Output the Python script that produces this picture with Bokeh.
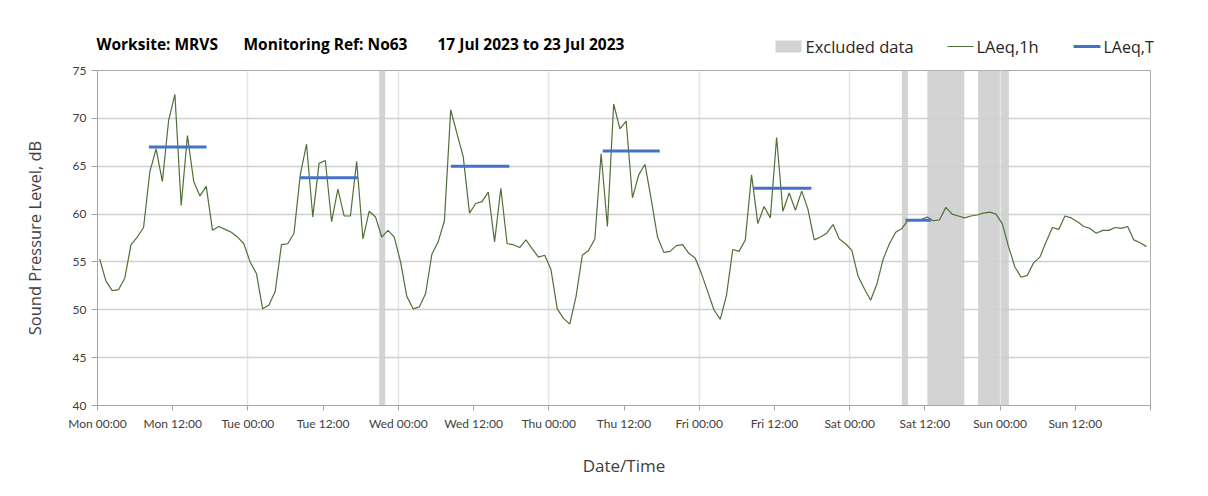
from bokeh.plotting import figure
from bokeh.models import Range1d, FixedTicker, ColumnDataSource
from bokeh.core.properties import value
from bokeh.embed import file_html
from bokeh.resources import INLINE

# ---------------- data ----------------
# hourly LAeq,1h values (dB), Monday 00:00 .. Sunday 23:00
laeq_1h = [
    55.3, 53.0, 52.0, 52.1, 53.3, 56.8, 57.6, 58.6, 64.4, 66.8, 63.4, 69.8,
    72.5, 60.9, 68.2, 63.4, 61.9, 62.9, 58.3, 58.7, 58.4, 58.1, 57.6, 56.9,
    55.0, 53.8, 50.1, 50.5, 51.9, 56.8, 56.9, 58.0, 64.1, 67.3, 59.7, 65.3,
    65.6, 59.2, 62.6, 59.8, 59.8, 65.5, 57.4, 60.3, 59.7, 57.6, 58.3, 57.6,
    55.0, 51.4, 50.1, 50.3, 51.7, 55.8, 57.1, 59.3, 70.9, 68.4, 66.0, 60.1,
    61.1, 61.3, 62.3, 57.1, 62.7, 56.9, 56.8, 56.5, 57.3, 56.4, 55.5, 55.7,
    54.2, 50.1, 49.1, 48.5, 51.4, 55.7, 56.2, 57.4, 66.3, 58.7, 71.5, 68.9,
    69.7, 61.7, 64.1, 65.2, 61.5, 57.6, 56.0, 56.1, 56.7, 56.8, 55.9, 55.4,
    53.8, 51.9, 50.0, 49.0, 51.5, 56.3, 56.1, 57.3, 64.1, 59.0, 60.8, 59.6,
    68.0, 60.3, 62.2, 60.4, 62.4, 60.5, 57.3, 57.6, 58.0, 58.9, 57.4, 56.9,
    56.2, 53.5, 52.2, 51.0, 52.7, 55.3, 56.9, 58.1, 58.5, 59.4, 59.4, 59.4,
    59.7, 59.3, 59.4, 60.7, 60.0, 59.8, 59.6, 59.8, 59.9, 60.1, 60.2, 60.0,
    59.0, 56.6, 54.5, 53.4, 53.6, 54.9, 55.5, 57.1, 58.6, 58.4, 59.8, 59.6,
    59.2, 58.7, 58.5, 58.0, 58.3, 58.3, 58.6, 58.5, 58.7, 57.3, 57.0, 56.6,
]
first_hour = 0.35  # position of the first hourly point (hours after Mon 00:00)
hours = [first_hour + i for i in range(len(laeq_1h))]

# LAeq,T period values: start hour, end hour, level
laeq_t_start = [8.2, 32.3, 56.4, 80.6, 104.6, 128.9]
laeq_t_end = [17.4, 41.55, 65.7, 89.7, 113.9, 133.0]
laeq_t_level = [67.0, 63.8, 65.0, 66.6, 62.7, 59.35]

# Excluded data periods (hours after Mon 00:00)
excl_start = [44.95, 128.35, 132.4, 140.5]
excl_end = [45.9, 129.3, 138.3, 145.4]

x_tick_hours = [0, 12, 24, 36, 48, 60, 72, 84, 96, 108, 120, 132, 144, 156, 168]
x_tick_labels = ["Mon 00:00", "Mon 12:00", "Tue 00:00", "Tue 12:00", "Wed 00:00",
                 "Wed 12:00", "Thu 00:00", "Thu 12:00", "Fri 00:00", "Fri 12:00",
                 "Sat 00:00", "Sat 12:00", "Sun 00:00", "Sun 12:00", ""]
day_grid_hours = [24, 48, 72, 96, 120, 144]
y_ticks = [40, 45, 50, 55, 60, 65, 70, 75]

title_parts = ["Worksite: MRVS", "Monitoring Ref: No63", "17 Jul 2023 to 23 Jul 2023"]
legend_labels = ["Excluded data", "LAeq,1h", "LAeq,T"]

# ---------------- styling ----------------
TICK_FONT = "Lato"
TEXT_FONT = "Open Sans"
LINE_COLOR = "#4f7038"
T_COLOR = "#4472c4"
EXCL_COLOR = "#d3d3d3"
W = 1192
HEAD_H = 58

# ---------------- header (title + legend) ----------------
head = figure(width=W, height=HEAD_H, output_backend="svg", toolbar_location=None,
              x_range=Range1d(0, W), y_range=Range1d(HEAD_H, 0),
              x_axis_type=None, y_axis_type=None,
              min_border=0, min_border_left=0, min_border_right=0,
              min_border_top=0, min_border_bottom=0)
head.outline_line_color = None
head.grid.visible = False
head.background_fill_color = "white"
head.border_fill_color = "white"

title_x = [96, 243, 437]
head.text(x=title_x, y=[43] * 3, text=title_parts, text_font=value(TEXT_FONT),
          text_font_style="bold", text_font_size="15.5px", text_color="#000000",
          text_baseline="middle", text_align="left")

# legend marks
head.quad(left=[775], right=[801], bottom=[52], top=[40], fill_color=EXCL_COLOR, line_color=None)
head.segment(x0=[947], x1=[973], y0=[46], y1=[46], line_color=LINE_COLOR, line_width=1.2)
head.segment(x0=[1073], x1=[1100], y0=[46], y1=[46], line_color=T_COLOR, line_width=3)
head.text(x=[805, 976, 1103], y=[46] * 3, text=legend_labels, text_font=value(TEXT_FONT),
          text_font_size=["16.5px", "16.5px", "16px"], text_color="#262626",
          text_baseline="middle", text_align="left")

# ---------------- main chart ----------------
p = figure(width=W, height=480 - HEAD_H, output_backend="svg", toolbar_location=None,
           x_range=Range1d(0, 168), y_range=Range1d(40, 75),
           min_border_left=97, min_border_right=W - 97 - 1053, min_border_top=70 - HEAD_H,
           min_border_bottom=480 - HEAD_H - (70 - HEAD_H) - 335)
p.background_fill_color = "white"
p.border_fill_color = "white"
p.outline_line_color = "#aaaaaa"
p.outline_line_width = 1

p.ygrid.ticker = FixedTicker(ticks=y_ticks)
p.ygrid.grid_line_color = "#d0d0d0"
p.ygrid.grid_line_width = 1.5
p.xgrid.ticker = FixedTicker(ticks=day_grid_hours)
p.xgrid.grid_line_color = "#e4e4e4"
p.xgrid.grid_line_width = 1.5

p.xaxis.ticker = FixedTicker(ticks=x_tick_hours)
p.xaxis.major_label_overrides = {h: l for h, l in zip(x_tick_hours, x_tick_labels)}
p.yaxis.ticker = FixedTicker(ticks=y_ticks)
for ax in (p.xaxis, p.yaxis):
    ax.axis_line_color = "#a6a6a6"
    ax.major_tick_line_color = "#a6a6a6"
    ax.minor_tick_line_color = None
    ax.major_tick_in = 0
    ax.major_label_text_font = TICK_FONT
    ax.major_label_text_font_size = "12px"
    ax.major_label_text_color = "#404040"
    ax.major_label_standoff = 5
    ax.axis_label_text_font = TEXT_FONT
    ax.axis_label_text_font_style = "normal"
    ax.axis_label_text_color = "#404040"
p.xaxis.major_tick_out = 5
p.yaxis.major_tick_out = 6
p.xaxis.axis_label = "Date/Time"
p.yaxis.axis_label = "Sound Pressure Level, dB"
p.xaxis.axis_label_text_font_size = "17px"
p.yaxis.axis_label_text_font_size = "16.5px"
p.xaxis.axis_label_standoff = 20
p.yaxis.axis_label_standoff = 24

excl_src = ColumnDataSource(dict(left=excl_start, right=excl_end,
                                 bottom=[40] * len(excl_start), top=[75] * len(excl_start)))
p.quad(left="left", right="right", bottom="bottom", top="top", source=excl_src,
       fill_color=EXCL_COLOR, line_color=None, level="image")

p.line(hours, laeq_1h, line_color=LINE_COLOR, line_width=1.2)

p.segment(x0=laeq_t_start, x1=laeq_t_end, y0=laeq_t_level, y1=laeq_t_level,
          line_color=T_COLOR, line_width=3)

open("out.html", "w").write(file_html((head, p), INLINE))
